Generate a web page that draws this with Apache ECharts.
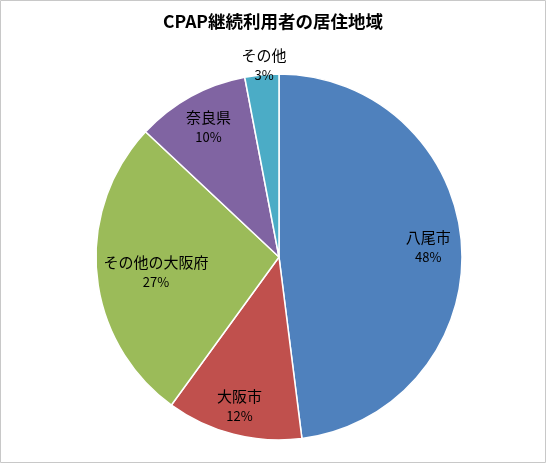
<!DOCTYPE html>
<html><head><meta charset="utf-8">
<script src="https://cdn.jsdelivr.net/npm/echarts@6/dist/echarts.min.js"></script>
<style>html,body{margin:0;padding:0;background:#fff;}#c{width:546px;height:463px;}</style>
</head><body><div id="c"></div>
<script>
const titleText = 'CPAP継続利用者の居住地域';
const categories = ['八尾市', '大阪市', 'その他の大阪府', '奈良県', 'その他'];
const values = [48, 12, 27, 10, 3];
const colors = ['#4F81BD', '#C0504D', '#9BBB59', '#8064A2', '#4BACC6'];
const labelOffsets = [[55, -4], [-16, 58], [-29, 6], [-25, -47], [-6, -98]];

const chart = echarts.init(document.getElementById('c'));
chart.setOption({
  animation: false,
  title: {
    text: titleText, left: 'center', top: 8,
    textStyle: { fontFamily: 'Noto Sans CJK JP', fontSize: 17.5, fontWeight: 'bold', color: '#000' }
  },
  graphic: [{
    type: 'rect', shape: { x: 0.5, y: 0.5, width: 545, height: 462 },
    style: { fill: 'none', stroke: '#c8c8c8', lineWidth: 1 }, silent: true
  }],
  series: [{
    type: 'pie',
    center: [279, 257],
    radius: [0, 183],
    startAngle: 90,
    clockwise: true,
    itemStyle: { borderColor: '#fff', borderWidth: 1.5 },
    label: {
      show: true, position: 'inside',
      formatter: p => '{n|' + p.name + '}\n{v|' + p.value + '%}',
      color: '#000',
      rich: {
        n: { fontFamily: 'Noto Sans CJK JP', fontSize: 15, lineHeight: 20, color: '#000' },
        v: { fontFamily: 'Noto Sans CJK JP', fontSize: 13, lineHeight: 20, color: '#000' }
      }
    },
    labelLine: { show: false },
    emphasis: { disabled: true },
    data: categories.map((n, i) => ({
      name: n, value: values[i],
      itemStyle: { color: colors[i] },
      label: { offset: labelOffsets[i] }
    }))
  }]
});
</script></body></html>
